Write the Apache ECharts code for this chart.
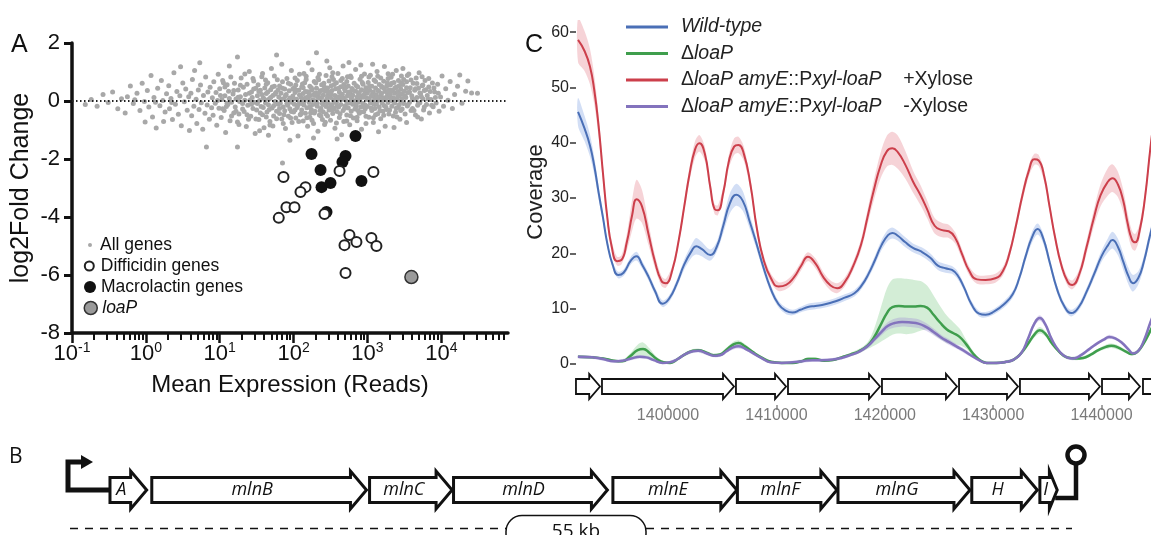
<!DOCTYPE html>
<html>
<head>
<meta charset="utf-8">
<script src="https://cdn.jsdelivr.net/npm/echarts@6/dist/echarts.min.js"></script>
<style>
  html, body { margin: 0; padding: 0; background: #fff; }
  #chart { width: 1151px; height: 535px; }
</style>
</head>
<body>
<div id="chart"></div>
<script>
// ---------- Panel A: MA plot ----------
// every gene: [log10 mean expression (reads), log2 fold change]
const allGenes = [
[-0.82,-0.12],[-0.74,0.05],[-0.66,-0.18],[-0.58,0.22],[-0.51,-0.05],[-0.45,0.31],[-0.38,-0.27],[-0.33,0.08],
[-0.28,-0.41],[-0.25,0.15],[-0.21,0.52],[-0.17,-0.09],[-0.12,0.27],[-0.08,-0.33],[-0.05,0.61],[-0.02,-0.02],[-0.15,0.04],[-0.01,-0.72],
[0.02,0.36],[0.04,-0.21],[0.07,0.88],[0.09,-0.55],[0.11,0.12],[0.14,-0.93],[0.16,0.44],[0.19,-0.16],[0.21,0.71],[0.23,0.02],[0.26,-0.38],[0.28,0.25],[0.13,-0.04],[0.24,-0.71],
[0.31,0.53],[0.32,-0.27],[0.34,0.09],[0.36,-0.64],[0.38,0.97],[0.40,-0.11],[0.42,0.33],[0.44,-0.46],[0.46,0.18],[0.48,-0.85],[0.50,0.62],[0.52,-0.03],[0.54,0.41],[0.56,-0.32],[0.58,0.15],[0.59,-1.02],[0.47,1.18],[0.35,-0.05],
[0.61,0.27],[0.62,-0.51],[0.63,0.74],[0.65,-0.18],[0.66,1.05],[0.68,0.06],[0.69,-0.78],[0.71,0.38],[0.72,-0.29],[0.74,0.55],[0.75,-0.06],[0.77,-0.97],[0.78,0.19],[0.80,-0.42],[0.81,0.83],[0.83,-0.14],[0.84,0.31],[0.86,-0.63],[0.87,0.47],[0.89,-0.23],[0.82,-1.59],[0.73,1.32],
[0.90,0.11],[0.91,-0.49],[0.92,0.66],[0.94,-0.08],[0.95,0.29],[0.96,-0.84],[0.98,0.92],[0.99,-0.25],[1.00,0.42],[1.02,-0.57],[1.03,0.05],[1.04,0.71],[1.06,-0.33],[1.07,0.18],[1.08,-1.09],[1.10,0.56],[1.11,-0.12],[1.12,0.34],[1.14,-0.68],[1.15,0.83],[1.16,-0.04],[1.18,0.24],[1.19,-0.41],[1.13,1.21],[0.97,0.02],[1.09,-0.19],
[1.20,0.61],[1.21,-0.21],[1.22,0.07],[1.24,-0.72],[1.24,1.52],[1.25,0.38],[1.26,-0.45],[1.28,0.15],[1.24,-1.59],[1.29,0.79],[1.31,-0.09],[1.32,0.47],[1.33,-0.36],[1.35,0.22],[1.36,-0.88],[1.37,0.58],[1.38,-0.15],[1.40,1.02],[1.41,0.03],[1.42,-0.53],[1.43,0.31],[1.45,-0.26],[1.46,0.69],[1.47,-0.04],[1.48,-1.12],[1.49,0.44],[1.27,-0.02],[1.34,0.93],[1.44,0.12],[1.39,-0.63],
[1.50,-0.31],[1.51,0.18],[1.52,0.56],[1.53,-0.64],[1.54,0.02],[1.55,0.37],[1.56,-0.19],[1.57,0.84],[1.58,-0.47],[1.59,0.11],[1.60,-0.92],[1.61,0.45],[1.62,-0.07],[1.63,0.26],[1.64,-0.38],[1.65,0.63],[1.66,-0.13],[1.67,0.07],[1.68,-0.71],[1.69,0.39],[1.70,1.12],[1.71,-0.24],[1.72,0.19],[1.73,-0.52],[1.74,0.51],[1.75,-0.02],[1.76,0.29],[1.77,1.59],[1.77,-0.35],[1.78,0.73],[1.79,-0.11],[1.58,0.95],[1.66,-1.18],[1.72,-0.86],[1.54,-1.03],[1.63,0.58],
[1.80,0.14],[1.81,-0.43],[1.81,0.52],[1.82,-0.08],[1.83,0.27],[1.84,-0.62],[1.85,0.66],[1.85,-2.14],[1.86,-0.21],[1.87,0.09],[1.88,0.41],[1.88,-0.34],[1.89,-0.95],[1.90,0.22],[1.91,0.78],[1.92,-0.15],[1.93,0.03],[1.93,-0.53],[1.94,0.35],[1.95,-0.27],[1.96,0.58],[1.97,-0.04],[1.97,1.05],[1.98,-0.74],[1.99,0.17],[2.00,-0.38],[2.01,0.46],[2.01,-0.11],[2.02,0.29],[2.03,-0.59],[2.04,0.06],[2.05,0.71],[2.05,-0.22],[2.06,-1.21],[2.07,0.37],[2.08,-0.06],[2.08,0.92],[2.09,-0.47],[2.10,0.13],[1.84,1.27],[1.95,-1.35],[2.03,0.55],
[2.11,-0.31],[2.11,0.48],[2.12,0.04],[2.13,-0.69],[2.13,0.26],[2.14,-0.14],[2.15,0.63],[2.16,-0.42],[2.16,0.11],[2.17,0.85],[2.18,-0.23],[2.19,0.32],[2.19,-0.87],[2.20,0.07],[2.21,-0.05],[2.22,0.51],[2.22,-0.56],[2.23,0.19],[2.24,-0.29],[2.25,1.08],[2.25,0.39],[2.26,-0.12],[2.27,-0.78],[2.28,0.24],[2.28,0.67],[2.29,-0.35],[2.30,0.01],[2.31,1.66],[2.31,0.44],[2.32,-0.18],[2.33,-1.04],[2.33,0.15],[2.34,0.73],[2.35,-0.48],[2.36,0.09],[2.36,0.35],[2.37,-0.26],[2.38,0.56],[2.39,-0.09],[2.39,-0.64],[2.20,1.31],[2.27,-1.28],[2.14,0.95],[2.35,0.92],[2.23,-0.41],[2.30,0.28],
[2.40,0.21],[2.40,-0.37],[2.41,0.61],[2.42,-0.02],[2.42,-0.81],[2.43,0.34],[2.44,-0.19],[2.44,0.88],[2.45,0.08],[2.46,-0.52],[2.46,0.45],[2.47,-0.08],[2.48,0.27],[2.48,-0.31],[2.49,1.15],[2.50,0.12],[2.50,-0.66],[2.51,0.53],[2.52,-0.13],[2.52,0.36],[2.53,-0.43],[2.54,0.03],[2.54,0.74],[2.55,-0.25],[2.56,0.19],[2.56,-0.94],[2.57,0.42],[2.58,-0.05],[2.58,0.63],[2.59,-0.36],[2.60,0.14],[2.60,0.95],[2.61,-0.21],[2.62,0.31],[2.62,-0.57],[2.63,0.06],[2.64,0.49],[2.64,-0.12],[2.65,-1.16],[2.66,0.23],[2.66,0.78],[2.67,-0.33],[2.68,0.10],[2.68,-0.71],[2.69,0.41],[2.45,1.38],[2.59,-1.31],[2.53,0.97],[2.67,1.21],[2.49,-0.27],
[2.70,-0.16],[2.70,0.35],[2.71,0.02],[2.72,0.67],[2.72,-0.48],[2.73,0.18],[2.74,-0.24],[2.74,0.52],[2.75,-0.07],[2.76,0.29],[2.76,-0.82],[2.77,0.86],[2.78,0.09],[2.78,-0.35],[2.79,0.43],[2.80,-0.11],[2.80,0.21],[2.81,-0.59],[2.82,0.61],[2.82,0.01],[2.83,-0.28],[2.84,0.34],[2.84,1.09],[2.85,-0.17],[2.86,0.14],[2.86,-0.68],[2.87,0.48],[2.88,-0.04],[2.88,0.26],[2.89,-0.42],[2.90,0.75],[2.90,0.07],[2.91,-0.21],[2.92,0.39],[2.92,-0.97],[2.93,0.17],[2.94,-0.09],[2.94,0.58],[2.95,-0.37],[2.96,0.24],[2.96,0.93],[2.97,-0.14],[2.98,0.46],[2.98,-0.53],[2.99,0.11],[2.75,1.33],[2.83,-1.21],[2.91,1.24],[2.79,0.02],[2.97,0.31],[2.87,-0.33],[2.73,0.84],
[3.00,0.28],[3.00,-0.19],[3.01,0.64],[3.02,0.05],[3.02,-0.56],[3.03,0.37],[3.04,-0.07],[3.04,0.89],[3.05,0.16],[3.06,-0.33],[3.06,0.51],[3.07,-0.02],[3.08,0.31],[3.08,-0.74],[3.09,0.72],[3.10,0.09],[3.10,-0.26],[3.11,0.45],[3.12,-0.11],[3.12,0.21],[3.13,1.02],[3.14,-0.44],[3.14,0.36],[3.15,0.03],[3.16,0.57],[3.16,-0.21],[3.17,0.14],[3.18,-0.61],[3.18,0.79],[3.19,0.25],[3.20,-0.08],[3.20,0.47],[3.21,-0.35],[3.22,0.11],[3.22,0.68],[3.23,-0.16],[3.24,0.33],[3.24,-0.87],[3.25,0.04],[3.26,0.52],[3.26,-0.29],[3.27,0.19],[3.28,0.94],[3.28,-0.05],[3.29,0.38],[3.07,1.27],[3.15,-1.06],[3.23,1.19],[3.11,-0.47],[3.27,0.63],
[3.30,0.15],[3.30,-0.31],[3.31,0.55],[3.32,0.02],[3.32,0.82],[3.33,-0.18],[3.34,0.36],[3.35,-0.52],[3.35,0.11],[3.36,0.64],[3.37,-0.07],[3.37,0.27],[3.38,-0.39],[3.39,0.48],[3.39,1.05],[3.40,0.06],[3.41,-0.22],[3.41,0.33],[3.42,0.71],[3.43,-0.13],[3.43,0.19],[3.44,-0.63],[3.45,0.42],[3.45,0.01],[3.46,0.86],[3.47,-0.28],[3.47,0.25],[3.48,0.57],[3.49,-0.09],[3.50,0.34],[3.51,-0.45],[3.52,0.12],[3.53,0.66],[3.54,-0.17],[3.55,0.29],[3.56,0.93],[3.57,-0.04],[3.58,0.46],[3.59,-0.33],[3.36,-0.91],[3.48,1.12],[3.53,-0.74],
[3.60,0.18],[3.61,-0.26],[3.62,0.61],[3.63,0.04],[3.64,0.37],[3.65,-0.48],[3.66,0.79],[3.67,0.12],[3.68,-0.15],[3.69,0.44],[3.70,0.97],[3.71,-0.06],[3.72,0.25],[3.73,-0.62],[3.74,0.53],[3.75,0.08],[3.76,-0.31],[3.77,0.36],[3.78,0.71],[3.80,-0.12],[3.81,0.19],[3.83,0.48],[3.84,-0.41],[3.86,0.05],[3.88,0.62],[3.89,-0.20],
[3.91,0.31],[3.93,-0.07],[3.95,0.58],[3.97,-0.35],[3.99,0.14],[4.01,0.86],[4.03,-0.18],[4.06,0.42],[4.09,0.03],[4.12,0.67],[4.15,-0.26],[4.18,0.22],
[4.22,0.51],[4.25,0.90],[4.28,-0.08],[4.33,0.34],[4.41,0.28],[4.49,0.27],[4.36,0.69],
[1.01,0.19],[1.04,-0.27],[1.07,0.48],[1.10,-0.08],[1.13,0.09],[1.16,-0.52],[1.19,0.36],[1.22,-0.35],[1.25,0.13],[1.28,0.54],[1.31,-0.28],[1.34,0.03],[1.37,-0.47],[1.40,0.27],[1.43,-0.11],[1.46,0.41],[1.49,-0.62],[1.05,0.63],[1.26,-0.81],[1.45,0.78],
[1.51,-0.09],[1.53,0.33],[1.55,-0.41],[1.57,0.22],[1.59,-0.22],[1.61,0.05],[1.63,-0.55],[1.65,0.31],[1.67,-0.29],[1.69,0.12],[1.71,0.48],[1.73,-0.16],[1.75,0.24],[1.77,-0.61],[1.79,0.38],[1.81,-0.26],[1.83,0.06],[1.85,0.44],[1.87,-0.47],[1.89,0.18],[1.91,-0.09],[1.93,0.61],[1.95,0.10],[1.97,-0.36],[1.99,0.41],[1.62,0.72],[1.74,0.86],[1.86,-0.78],[1.96,-0.59],[1.68,-0.83],
[2.00,0.08],[2.02,-0.31],[2.04,0.37],[2.06,-0.13],[2.08,0.21],[2.10,-0.44],[2.12,0.59],[2.14,-0.02],[2.16,0.33],[2.18,-0.58],[2.20,0.16],[2.22,-0.21],[2.24,0.46],[2.26,0.04],[2.28,-0.41],[2.30,0.62],[2.32,-0.08],[2.34,0.27],[2.36,-0.33],[2.38,0.12],[2.40,-0.12],[2.42,0.47],[2.44,-0.45],[2.46,0.18],[2.48,0.69],[2.50,-0.21],[2.02,0.79],[2.07,-0.71],[2.17,0.74],[2.25,-0.66],[2.33,0.81],[2.43,-0.73],[2.47,0.31],[2.11,-0.09],[2.21,0.30],[2.29,0.19],[2.39,0.37],[2.45,-0.03],[2.13,0.46],[2.37,-0.52],
[2.51,0.23],[2.53,-0.30],[2.55,0.57],[2.57,0.09],[2.59,-0.17],[2.61,0.44],[2.63,-0.44],[2.65,0.20],[2.67,0.06],[2.69,-0.25],[2.71,0.48],[2.73,-0.07],[2.75,0.31],[2.77,-0.51],[2.79,0.16],[2.81,0.36],[2.83,-0.12],[2.85,0.53],[2.87,0.02],[2.89,0.29],[2.91,-0.38],[2.93,0.64],[2.95,0.13],[2.97,-0.27],[2.99,0.38],[2.52,0.84],[2.58,-0.76],[2.64,0.71],[2.72,-0.69],[2.78,0.81],[2.86,-0.56],[2.92,0.85],[2.98,-0.78],[2.56,-0.04],[2.62,0.15],[2.68,0.57],[2.74,0.22],[2.82,-0.02],[2.88,0.18],[2.94,-0.18],
[3.01,0.04],[3.03,0.52],[3.05,-0.24],[3.07,0.27],[3.09,-0.11],[3.11,0.67],[3.13,0.12],[3.15,0.35],[3.17,-0.34],[3.19,0.51],[3.21,0.07],[3.23,0.42],[3.25,-0.21],[3.27,0.30],[3.29,-0.45],[3.31,0.23],[3.33,0.61],[3.35,-0.02],[3.37,0.44],[3.39,-0.25],[3.41,0.15],[3.43,0.53],[3.45,-0.33],[3.47,0.09],[3.49,0.74],[3.02,0.83],[3.08,-0.58],[3.14,0.85],[3.22,-0.49],[3.28,0.78],[3.34,0.92],[3.40,-0.55],[3.46,0.63],[3.06,0.17],[3.12,-0.07],[3.18,0.28],[3.26,0.10],[3.32,0.37],[3.38,0.05],[3.44,0.26],
[3.51,0.18],[3.53,0.46],[3.55,-0.12],[3.57,0.31],[3.59,0.72],[3.61,0.09],[3.63,-0.33],[3.65,0.42],[3.67,0.60],[3.69,-0.08],[3.71,0.28],[3.73,0.15],[3.75,0.55],[3.77,-0.21],[3.79,0.39],[3.82,0.07],[3.85,0.33],[3.87,-0.15],[3.90,0.45],[3.92,0.12],[3.96,0.27],[3.54,0.88],[3.68,-0.55],[3.74,0.84],[3.83,0.78]
];
// highlighted genes: [mean expression (reads), log2 fold change]
const difficidinGenes = [[73,-2.62],[145,-2.97],[124,-3.14],[80,-3.66],[103,-3.66],[63,-4.03],[419,-2.41],[1205,-2.45],[262,-3.90],[571,-4.62],[489,-4.97],[710,-4.86],[1132,-4.72],[1324,-5.00],[505,-5.93]];
const macrolactinGenes = [[689,-1.21],[175,-1.83],[505,-1.90],[459,-2.10],[232,-2.38],[239,-2.97],[316,-2.83],[830,-2.76],[279,-3.83]];
const loaPGene = [[3937,-6.07]];
const expressionTicks = [0.1, 1, 10, 100, 1000, 10000];

// ---------- Panel C: read coverage across the mln locus ----------
// rows: [position (kb), mean coverage, half-width of the shaded band]
const wildType = [
[1391.7,45.6,2.5],[1392.3,42.6,2.3],[1392.8,39.5,2.0],[1393.2,35.8,1.6],[1393.6,31.0,1.2],[1394.0,26.5,0.9],[1394.4,21.8,0.7],[1394.9,17.9,0.6],[1395.4,16.1,0.6],[1395.9,16.5,0.6],[1396.6,18.8,0.7],[1397.1,19.5,0.8],[1397.6,18.0,0.7],[1398.2,15.8,0.7],[1398.8,13.2,0.7],[1399.5,10.9,0.6],[1400.1,11.8,0.6],[1400.8,14.5,0.7],[1401.5,18.0,0.9],[1402.2,20.5,1.2],[1402.6,21.3,1.5],[1403.1,20.8,1.3],[1403.9,19.7,1.0],[1404.5,21.2,0.9],[1405.1,25.0,1.3],[1405.7,29.0,1.8],[1406.3,30.6,2.0],[1406.9,29.5,1.8],[1407.5,26.0,1.3],[1408.1,22.2,1.0],[1408.8,17.5,0.8],[1409.5,13.5,0.7],[1410.2,10.8,0.6],[1410.9,9.6,0.6],[1411.5,9.3,0.5],[1412.2,9.8,0.5],[1412.9,10.3,0.6],[1413.6,10.5,0.6],[1414.5,10.8,0.6],[1415.4,11.3,0.6],[1416.3,12.0,0.6],[1417.2,12.8,0.6],[1417.9,14.3,0.6],[1418.5,16.3,0.7],[1419.1,18.8,0.8],[1419.7,21.5,0.9],[1420.3,23.3,1.0],[1420.7,23.7,1.0],[1421.2,23.2,0.9],[1421.9,22.0,0.9],[1422.6,21.0,0.8],[1423.4,20.3,0.8],[1424.2,19.2,0.8],[1424.9,17.8,0.8],[1425.6,17.3,0.8],[1426.2,17.0,0.7],[1426.7,16.1,0.7],[1427.3,13.9,0.6],[1428.0,10.8,0.6],[1428.7,9.1,0.5],[1429.3,8.9,0.5],[1430.1,9.5,0.5],[1431.0,10.8,0.6],[1431.8,12.6,0.6],[1432.4,15.5,0.7],[1433.0,19.5,0.8],[1433.6,23.0,1.0],[1434.1,24.4,1.0],[1434.6,22.8,0.9],[1435.2,18.5,0.8],[1435.9,13.5,0.7],[1436.6,10.3,0.6],[1437.2,9.2,0.6],[1437.9,10.3,0.6],[1438.6,13.0,0.7],[1439.3,16.2,0.8],[1440.0,19.5,1.0],[1440.6,21.5,1.3],[1441.0,22.4,1.5],[1441.5,21.2,1.5],[1442.0,18.5,1.5],[1442.5,15.8,1.5],[1442.9,14.6,1.5],[1443.4,15.6,1.2],[1443.9,18.5,1.0],[1444.5,23.5,1.0],[1445.0,27.0,1.0]
];
const loaPDeletion = [
[1391.7,1.3,0.2],[1393.0,1.2,0.2],[1394.0,1.0,0.2],[1395.0,0.6,0.2],[1395.8,0.5,0.2],[1396.5,1.4,0.5],[1397.2,2.5,1.0],[1397.7,2.7,1.2],[1398.3,2.0,0.8],[1398.9,1.0,0.4],[1399.6,0.3,0.2],[1400.2,0.2,0.2],[1400.9,0.9,0.2],[1401.6,1.8,0.3],[1402.3,2.4,0.3],[1402.8,2.5,0.3],[1403.6,2.0,0.3],[1404.2,1.6,0.3],[1404.8,1.7,0.3],[1405.4,2.6,0.4],[1406.0,3.5,0.5],[1406.5,3.8,0.5],[1407.1,3.2,0.4],[1407.8,2.2,0.3],[1408.6,1.2,0.3],[1409.5,0.4,0.2],[1410.5,0.2,0.2],[1411.5,0.2,0.2],[1412.3,0.5,0.2],[1412.9,0.9,0.3],[1413.6,0.9,0.3],[1414.4,0.6,0.2],[1415.2,0.7,0.2],[1416.0,1.2,0.2],[1416.8,1.7,0.3],[1417.6,2.3,0.4],[1418.4,3.3,0.6],[1419.0,4.8,1.5],[1419.6,7.0,3.0],[1420.2,9.2,4.5],[1420.7,10.3,5.0],[1421.3,10.5,5.0],[1422.0,10.4,5.0],[1422.7,10.4,4.8],[1423.3,10.5,4.5],[1423.9,10.2,4.0],[1424.5,8.9,3.5],[1425.1,7.5,3.0],[1425.7,6.3,2.5],[1426.3,5.6,2.0],[1426.9,4.9,1.5],[1427.5,3.6,0.8],[1428.1,2.0,0.5],[1428.7,0.8,0.3],[1429.4,0.2,0.2],[1430.3,0.2,0.2],[1431.2,0.4,0.2],[1431.9,0.8,0.2],[1432.6,2.0,0.3],[1433.2,3.6,0.4],[1433.8,5.3,0.5],[1434.3,6.1,0.6],[1434.8,5.5,0.5],[1435.4,3.8,0.4],[1436.1,2.2,0.3],[1436.8,1.2,0.3],[1437.6,1.0,0.3],[1438.3,1.1,0.3],[1439.0,1.7,0.3],[1439.7,2.5,0.3],[1440.4,3.1,0.4],[1440.9,3.3,0.4],[1441.5,3.0,0.4],[1442.2,2.3,0.3],[1442.8,1.8,0.3],[1443.3,2.2,0.3],[1443.9,3.8,0.4],[1444.5,6.0,0.5],[1445.0,8.0,0.5]
];
const complementedXylose = [
[1391.7,58.6,4.0],[1392.3,56.6,3.6],[1392.8,53.8,3.2],[1393.2,49.5,2.6],[1393.6,43.0,2.0],[1394.0,34.5,1.5],[1394.4,26.5,1.2],[1394.8,21.3,1.0],[1395.3,18.6,0.8],[1395.7,18.8,0.8],[1396.2,22.0,1.5],[1396.7,27.0,2.8],[1397.1,29.8,3.5],[1397.6,28.5,3.0],[1398.2,23.5,2.0],[1398.8,18.5,1.2],[1399.4,15.0,0.9],[1399.8,14.6,0.8],[1400.4,17.0,0.8],[1401.0,22.5,0.8],[1401.5,28.5,1.0],[1402.0,34.5,1.2],[1402.5,38.8,1.5],[1402.9,39.9,1.5],[1403.4,38.0,1.3],[1403.9,32.0,1.0],[1404.3,28.0,0.9],[1404.6,27.8,0.9],[1405.1,31.0,1.0],[1405.6,36.5,1.2],[1406.1,39.3,1.5],[1406.5,39.6,1.5],[1407.0,38.0,1.3],[1407.6,32.5,1.0],[1408.2,24.5,0.9],[1408.8,19.0,0.8],[1409.5,15.5,0.8],[1410.2,14.0,0.8],[1410.9,14.3,0.8],[1411.6,15.6,0.8],[1412.3,17.8,0.8],[1412.9,19.4,0.8],[1413.6,18.2,0.9],[1414.3,15.8,0.9],[1415.0,14.2,0.9],[1415.6,13.7,0.9],[1416.3,14.8,0.8],[1417.1,17.8,0.8],[1417.8,21.5,1.0],[1418.4,26.5,1.3],[1419.0,31.5,1.8],[1419.6,35.8,2.3],[1420.2,38.5,2.8],[1420.7,39.0,3.0],[1421.2,38.3,3.0],[1421.9,36.0,2.5],[1422.6,33.0,2.0],[1423.3,30.5,1.8],[1423.9,28.0,1.6],[1424.6,25.0,1.4],[1425.3,24.2,1.3],[1425.9,24.0,1.2],[1426.5,22.8,1.0],[1427.1,20.0,0.9],[1427.8,16.8,0.8],[1428.5,15.3,0.8],[1429.3,15.2,0.8],[1430.2,15.5,0.8],[1430.9,16.8,0.8],[1431.5,20.0,0.8],[1432.1,25.0,0.9],[1432.7,30.5,1.0],[1433.3,35.0,1.0],[1433.8,37.0,1.0],[1434.2,36.8,1.0],[1434.7,34.0,1.0],[1435.2,28.5,0.9],[1435.7,23.0,0.8],[1436.3,17.8,0.8],[1436.9,14.8,0.8],[1437.3,14.3,0.8],[1437.9,16.0,0.9],[1438.6,21.0,1.2],[1439.3,26.5,1.5],[1439.9,30.5,2.0],[1440.6,33.0,2.5],[1441.0,33.6,2.5],[1441.5,32.5,2.3],[1442.0,29.5,2.0],[1442.4,25.5,1.8],[1442.8,22.5,1.6],[1443.1,22.0,1.5],[1443.5,24.0,1.3],[1444.0,30.0,1.2],[1444.5,39.0,1.2],[1445.0,47.0,1.2]
];
const complementedNoXylose = [
[1391.7,1.3,0.3],[1393.0,1.2,0.3],[1394.0,0.9,0.3],[1395.0,0.5,0.3],[1395.8,0.6,0.3],[1396.6,1.0,0.3],[1397.4,1.3,0.3],[1398.0,1.2,0.3],[1398.7,0.7,0.3],[1399.5,0.2,0.3],[1400.2,0.3,0.3],[1400.9,0.9,0.3],[1401.6,1.8,0.3],[1402.3,2.3,0.3],[1402.8,2.4,0.3],[1403.6,1.9,0.3],[1404.2,1.5,0.3],[1404.8,1.6,0.3],[1405.4,2.3,0.3],[1406.0,3.0,0.4],[1406.5,3.2,0.4],[1407.1,2.8,0.3],[1407.8,2.0,0.3],[1408.6,1.1,0.3],[1409.5,0.3,0.3],[1410.5,0.2,0.3],[1411.5,0.3,0.3],[1412.4,0.5,0.3],[1413.3,0.7,0.3],[1414.2,0.7,0.3],[1415.2,0.8,0.3],[1416.0,1.1,0.3],[1416.8,1.6,0.3],[1417.6,2.2,0.3],[1418.4,3.2,0.4],[1419.1,4.6,0.5],[1419.7,5.8,0.6],[1420.3,6.9,0.7],[1420.9,7.4,0.8],[1421.6,7.6,0.8],[1422.4,7.5,0.8],[1423.1,7.3,0.8],[1423.8,6.7,0.7],[1424.5,5.8,0.6],[1425.2,4.8,0.5],[1425.9,4.0,0.5],[1426.6,3.2,0.4],[1427.3,2.4,0.4],[1428.0,1.5,0.3],[1428.7,0.7,0.3],[1429.4,0.2,0.3],[1430.3,0.2,0.3],[1431.2,0.4,0.3],[1431.9,0.8,0.3],[1432.6,2.0,0.3],[1433.2,4.5,0.4],[1433.8,7.3,0.5],[1434.3,8.3,0.5],[1434.8,7.2,0.5],[1435.4,4.5,0.4],[1436.1,2.3,0.3],[1436.8,1.2,0.3],[1437.4,1.0,0.3],[1438.1,1.6,0.3],[1438.8,2.6,0.3],[1439.5,3.6,0.3],[1440.2,4.4,0.3],[1440.7,4.9,0.4],[1441.3,4.6,0.3],[1441.9,3.8,0.3],[1442.5,2.6,0.3],[1442.9,1.9,0.3],[1443.4,2.4,0.3],[1443.9,4.2,0.4],[1444.5,7.5,0.5],[1445.0,10.0,0.5]
];
const coverageTicks = [0, 10, 20, 30, 40, 50, 60];
const positionTicks = [1400000, 1410000, 1420000, 1430000, 1440000];
// genes under the coverage track: [start, end] (bp)
const locusGenes = [[1391510,1393730],[1393910,1406090],[1406270,1410890],[1411070,1419560],[1419740,1426660],[1426850,1432290],[1432470,1439850],[1440040,1443540],[1443820,1447400]];

// ---------- Panel B: mln operon ----------
// [start (kb), end (kb), gene]
const mlnGenes = [[2.30,4.31,'A'],[4.59,16.35,'mlnB'],[16.52,21.04,'mlnC'],[21.12,29.55,'mlnD'],[29.85,36.64,'mlnE'],[36.67,42.12,'mlnF'],[42.18,49.41,'mlnG'],[49.51,53.10,'H'],[53.24,54.19,'I']];
const operonLengthKb = 55;

// ---------- drawing ----------
const F = "'Liberation Sans', Arial, Helvetica, sans-serif";
const FB = "'Open Sans', 'Liberation Sans', sans-serif";
const INK = '#111';

const minorTicks = [];
for (let e = -1; e <= 4; e++) {
  for (let k = 2; k <= 9; k++) {
    const v = k * Math.pow(10, e);
    if (v < 80000) minorTicks.push(v);
  }
}

function arrowPoints(xs, xe, cy, shaftHalf, headHalf, headLen) {
  const hl = Math.min(headLen, (xe - xs) * 0.45);
  const xh = xe - hl;
  return [[xs, cy - shaftHalf], [xh, cy - shaftHalf], [xh, cy - headHalf], [xe, cy],
          [xh, cy + headHalf], [xh, cy + shaftHalf], [xs, cy + shaftHalf]];
}

const strains = [
  { name: 'Wild-type', rows: wildType, line: '#4a6fb6', band: 'rgba(125,160,225,0.35)', width: 2 },
  { name: 'ΔloaP', rows: loaPDeletion, line: '#3f9e4d', band: 'rgba(110,195,120,0.30)', width: 2.5 },
  { name: 'ΔloaP amyE::Pxyl-loaP +Xylose', rows: complementedXylose, line: '#cc3f4b', band: 'rgba(230,130,140,0.35)', width: 2 },
  { name: 'ΔloaP amyE::Pxyl-loaP -Xylose', rows: complementedNoXylose, line: '#8373bd', band: 'rgba(160,140,215,0.35)', width: 2.5 }
];
const legendText = {
  'Wild-type': '{p| }{i|Wild-type}',
  'ΔloaP': '{p| }{n|Δ}{i|loaP}',
  'ΔloaP amyE::Pxyl-loaP +Xylose': '{p| }{n|Δ}{i|loaP amyE}{n|::P}{i|xyl-loaP}{n|    +Xylose}',
  'ΔloaP amyE::Pxyl-loaP -Xylose': '{p| }{n|Δ}{i|loaP amyE}{n|::P}{i|xyl-loaP}{n|    -Xylose}'
};

const series = [];

// Panel A
series.push({
  type: 'scatter', name: 'All genes', xAxisIndex: 0, yAxisIndex: 0,
  data: allGenes.map(([lx, y]) => [Math.pow(10, lx), y]),
  symbolSize: 5, itemStyle: { color: '#a8a8a8', opacity: 1 }, z: 2, silent: true,
  markLine: {
    silent: true, symbol: 'none', label: { show: false },
    lineStyle: { type: [1.5, 2.5], color: '#222', width: 2 },
    data: [{ yAxis: 0 }]
  }
});
series.push({
  type: 'scatter', name: 'Macrolactin genes', xAxisIndex: 0, yAxisIndex: 0,
  data: macrolactinGenes, symbolSize: 12, itemStyle: { color: INK, opacity: 1 }, z: 4
});
series.push({
  type: 'scatter', name: 'Difficidin genes', xAxisIndex: 0, yAxisIndex: 0,
  data: difficidinGenes, symbolSize: 10,
  itemStyle: { color: '#fff', borderColor: '#222', borderWidth: 2, opacity: 1 }, z: 5
});
series.push({
  type: 'scatter', name: 'loaP', xAxisIndex: 0, yAxisIndex: 0,
  data: loaPGene, symbolSize: 13,
  itemStyle: { color: '#9a9a9a', borderColor: '#333', borderWidth: 1.5, opacity: 1 }, z: 5
});

// Panel C: shaded bands, one closed outline per strain (upper edge, then lower edge back)
strains.forEach(s => {
  series.push({
    type: 'custom', xAxisIndex: 2, yAxisIndex: 1, data: [[s.rows[0][0] * 1000, s.rows[0][1]]],
    silent: true, clip: true, z: 1,
    renderItem: (params, api) => {
      const upper = s.rows.map(r => api.coord([r[0] * 1000, r[1] + r[2]]));
      const lower = s.rows.map(r => api.coord([r[0] * 1000, Math.max(0, r[1] - r[2])])).reverse();
      return {
        type: 'polygon',
        shape: { points: upper.concat(lower), smooth: 0.3 },
        style: { fill: s.band }
      };
    }
  });
});
// Panel C: mean coverage lines
strains.forEach(s => {
  series.push({
    type: 'line', name: s.name, xAxisIndex: 2, yAxisIndex: 1,
    data: s.rows.map(r => [r[0] * 1000, r[1]]),
    symbol: 'none', smooth: 0.5,
    lineStyle: { color: s.line, width: s.width }, itemStyle: { color: s.line }, z: 3
  });
});
// Panel C: gene arrows
series.push({
  type: 'custom', xAxisIndex: 3, yAxisIndex: 2, data: locusGenes, silent: true, z: 3,
  renderItem: (params, api) => {
    const a = api.coord([api.value(0), 0.5]);
    const b = api.coord([api.value(1), 0.5]);
    return {
      type: 'polygon',
      shape: { points: arrowPoints(a[0], b[0], a[1], 7.5, 12.5, 11) },
      style: { fill: '#fff', stroke: INK, lineWidth: 1.8, lineJoin: 'miter' }
    };
  }
});

// Panel B: operon genes
series.push({
  type: 'custom', xAxisIndex: 4, yAxisIndex: 3, data: mlnGenes.map(g => [g[0], g[1]]), silent: true, z: 3,
  renderItem: (params, api) => {
    const a = api.coord([api.value(0), 0.5]);
    const b = api.coord([api.value(1), 0.5]);
    const pts = arrowPoints(a[0], b[0], a[1], 12.5, 19, 16);
    const shaftEnd = pts[1][0];
    return {
      type: 'group',
      children: [
        { type: 'polygon', shape: { points: pts },
          style: { fill: '#fff', stroke: INK, lineWidth: 3, lineJoin: 'miter' } },
        { type: 'text', x: (a[0] + shaftEnd) / 2 + 1, y: a[1],
          style: { text: mlnGenes[params.dataIndex][2], fontFamily: FB, fontSize: 18, fontStyle: 'italic',
                   fill: INK, align: 'center', verticalAlign: 'middle' } }
      ]
    };
  }
});
// Panel B: promoter (start) and terminator (end)
series.push({
  type: 'custom', xAxisIndex: 4, yAxisIndex: 3, data: [[0], [operonLengthKb]], silent: true, z: 4,
  renderItem: (params, api) => {
    const p = api.coord([api.value(0), 0.5]);
    const x = p[0], cy = p[1];
    if (params.dataIndex === 0) {
      const geneStart = api.coord([mlnGenes[0][0], 0.5])[0];
      return {
        type: 'group',
        children: [
          { type: 'polyline', shape: { points: [[geneStart, cy], [x, cy], [x, cy - 28], [x + 15, cy - 28]] },
            style: { stroke: INK, lineWidth: 5, fill: null, lineJoin: 'miter' } },
          { type: 'polygon', shape: { points: [[x + 13, cy - 35], [x + 25, cy - 28], [x + 13, cy - 21]] },
            style: { fill: INK } }
        ]
      };
    }
    const lastEnd = api.coord([mlnGenes[mlnGenes.length - 1][1], 0.5])[0];
    return {
      type: 'group',
      children: [
        { type: 'polyline', shape: { points: [[lastEnd - 2, cy + 8], [x + 4, cy + 8], [x + 4, cy - 26]] },
          style: { stroke: INK, lineWidth: 4.5, fill: null, lineJoin: 'miter' } },
        { type: 'circle', shape: { cx: x + 4, cy: cy - 35, r: 8.5 },
          style: { stroke: INK, lineWidth: 4.5, fill: '#fff' } }
      ]
    };
  }
});
// Panel B: length scale with label
series.push({
  type: 'custom', xAxisIndex: 4, yAxisIndex: 3, data: [[0, operonLengthKb]], silent: true, z: 4,
  renderItem: (params, api) => {
    const a = api.coord([api.value(0), 0.5]);
    const b = api.coord([api.value(1), 0.5]);
    const y = a[1] + 38.5;
    const mid = (a[0] + b[0]) / 2 + 6;
    const half = 70;
    const dash = { stroke: INK, lineWidth: 1.5, lineDash: [8, 7] };
    return {
      type: 'group',
      children: [
        { type: 'line', shape: { x1: a[0] + 2, y1: y, x2: mid - half, y2: y }, style: dash },
        { type: 'line', shape: { x1: mid + half, y1: y, x2: b[0], y2: y }, style: dash },
        { type: 'rect', shape: { x: mid - half, y: y - 13, width: 2 * half, height: 34, r: 16 },
          style: { fill: '#fff', stroke: INK, lineWidth: 1.5 } },
        { type: 'text', x: mid, y: y + 3,
          style: { text: operonLengthKb + ' kb', fontFamily: FB, fontSize: 19, fill: INK,
                   align: 'center', verticalAlign: 'middle' } }
      ]
    };
  }
});

const richA = {
  b: { fontFamily: F, fontSize: 22, color: INK },
  s: { fontFamily: F, fontSize: 14, color: INK, padding: [0, 0, 11, 0] }
};

const option = {
  animation: false,
  backgroundColor: '#fff',
  grid: [
    { left: 72, top: 43, width: 436, height: 290 },
    { left: 576, top: 20, right: 0, bottom: 171 },
    { left: 576, right: 0, top: 373, height: 27 },
    { left: 68, width: 1004, top: 470, height: 40 }
  ],
  xAxis: [
    { gridIndex: 0, type: 'log', logBase: 10, min: 0.1, max: 80000, position: 'bottom',
      axisLine: { onZero: false, lineStyle: { color: INK, width: 3.5 } },
      axisTick: { customValues: expressionTicks, length: 10, lineStyle: { color: INK, width: 2.5 } },
      axisLabel: { customValues: expressionTicks, margin: 8, rich: richA,
        formatter: v => '{b|10}{s|' + Math.round(Math.log10(v)) + '}' },
      splitLine: { show: false },
      name: 'Mean Expression (Reads)', nameLocation: 'middle', nameGap: 40,
      nameTextStyle: { fontFamily: F, fontSize: 24, color: INK } },
    { gridIndex: 0, type: 'log', logBase: 10, min: 0.1, max: 80000, position: 'bottom',
      axisLine: { show: false, onZero: false },
      axisTick: { customValues: minorTicks, length: 7, lineStyle: { color: INK, width: 2 } },
      axisLabel: { show: false }, splitLine: { show: false } },
    { gridIndex: 1, type: 'value', min: 1391513, max: 1444560, show: false },
    { gridIndex: 2, type: 'value', min: 1391513, max: 1444560, position: 'bottom', offset: 5,
      axisLine: { show: false, onZero: false },
      axisTick: { customValues: positionTicks, length: 5, lineStyle: { color: '#888', width: 1.5 } },
      axisLabel: { customValues: positionTicks, margin: 3, fontFamily: F, fontSize: 16, color: '#7a7a7a',
        formatter: v => String(v) },
      splitLine: { show: false } },
    { gridIndex: 3, type: 'value', min: 0, max: operonLengthKb, show: false }
  ],
  yAxis: [
    { gridIndex: 0, type: 'value', min: -8, max: 2, interval: 2,
      axisLine: { show: true, onZero: false, lineStyle: { color: INK, width: 3.5 } },
      axisTick: { show: true, length: 8, lineStyle: { color: INK, width: 3 } },
      axisLabel: { fontFamily: F, fontSize: 22, color: INK, margin: 12 },
      splitLine: { show: false },
      name: 'log2Fold Change', nameLocation: 'middle', nameGap: 38,
      nameTextStyle: { fontFamily: F, fontSize: 25, color: INK } },
    { gridIndex: 1, type: 'value', min: 0, max: 62.2,
      axisLine: { show: false },
      axisTick: { show: true, customValues: coverageTicks, length: 6, lineStyle: { color: '#333', width: 1.5 } },
      axisLabel: { customValues: coverageTicks, fontFamily: F, fontSize: 16, color: '#222', margin: 7 },
      splitLine: { show: false },
      name: 'Coverage', nameLocation: 'middle', nameGap: 22,
      nameTextStyle: { fontFamily: F, fontSize: 22, color: '#222' } },
    { gridIndex: 2, type: 'value', min: 0, max: 1, show: false },
    { gridIndex: 3, type: 'value', min: 0, max: 1, show: false }
  ],
  legend: [
    { data: ['All genes'], left: 88, top: 234.5, orient: 'vertical', padding: 0, selectedMode: false,
      itemWidth: 4, itemHeight: 4, icon: 'circle',
      textStyle: { fontFamily: F, fontSize: 17.5, color: INK, lineHeight: 21, padding: [0, 0, 0, 3] } },
    { data: ['Difficidin genes'], left: 83.8, top: 255.5, orient: 'vertical', padding: 0, selectedMode: false,
      itemWidth: 9, itemHeight: 9, icon: 'circle',
      itemStyle: { color: '#fff', borderColor: '#222', borderWidth: 2 },
      textStyle: { fontFamily: F, fontSize: 17.5, color: INK, lineHeight: 21, padding: [0, 0, 0, 2] } },
    { data: ['Macrolactin genes'], left: 84, top: 276.5, orient: 'vertical', padding: 0, selectedMode: false,
      itemWidth: 12, itemHeight: 12, icon: 'circle',
      textStyle: { fontFamily: F, fontSize: 17.5, color: INK, lineHeight: 21 } },
    { data: ['loaP'], left: 83.5, top: 297.5, orient: 'vertical', padding: 0, selectedMode: false,
      itemWidth: 13, itemHeight: 13, icon: 'circle',
      itemStyle: { color: '#9a9a9a', borderColor: '#333', borderWidth: 1.5 },
      textStyle: { fontFamily: F, fontSize: 17.5, fontStyle: 'italic', color: INK, lineHeight: 21 } },
    { data: strains.map(s => s.name), left: 626, top: 17, orient: 'vertical', padding: 0, selectedMode: false,
      itemWidth: 42, itemHeight: 3, itemGap: 6.5, icon: 'rect',
      formatter: n => legendText[n],
      textStyle: { fontFamily: F, fontSize: 19.5, color: '#222', lineHeight: 20,
        rich: {
          p: { width: 8 },
          n: { fontFamily: F, fontSize: 19.5, color: '#222' },
          i: { fontFamily: F, fontSize: 19.5, color: '#222', fontStyle: 'italic' }
        } } }
  ],
  graphic: [
    { type: 'text', left: 11, top: 33, style: { text: 'A', fontFamily: F, fontSize: 25, fill: INK } },
    { type: 'text', left: 525, top: 33, style: { text: 'C', fontFamily: F, fontSize: 25, fill: INK } },
    { type: 'text', left: 9, top: 447, style: { text: 'B', fontFamily: FB, fontSize: 21, fill: INK } }
  ],
  series: series
};

const chart = echarts.init(document.getElementById('chart'), null, { renderer: 'canvas' });
chart.setOption(option);
</script>
</body>
</html>
